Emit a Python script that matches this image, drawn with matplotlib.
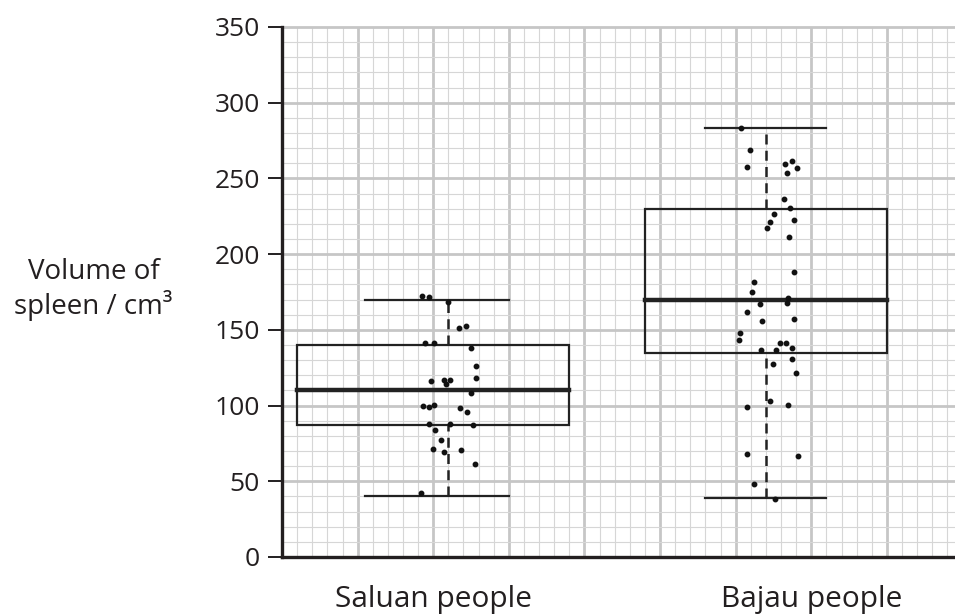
import matplotlib.pyplot as plt
from matplotlib.patches import Rectangle

plt.rcParams['font.family'] = ['Open Sans', 'DejaVu Sans']

# box summaries (min, Q1, median, Q3, max)
groups = ['Saluan people', 'Bajau people']
stats = [[40, 87, 110, 140, 170],
         [39, 135, 170, 230, 283]]
# horizontal placement on the grid (in grid squares)
box_left = [1, 24]
box_right = [19, 40]
whisker_x = [11, 32]
cap_left = [5.5, 28]
cap_right = [15, 36]
label_x = [10, 35]

# individual measurements
saluan_x = [9.28, 9.74, 11.0, 11.73, 12.17, 9.48, 10.05, 12.48, 12.81, 12.83,
            9.87, 10.69, 11.11, 10.87, 12.48, 9.33, 9.74, 10.05, 11.77, 12.26,
            9.70, 11.13, 12.63, 10.14, 10.52, 10.01, 10.69, 11.84, 12.76, 9.17]
saluan_y = [172.4, 171.9, 168.6, 151, 152.3, 141.5, 141.5, 138.2, 126, 118.4,
            116.2, 116.9, 116.9, 114, 108.5, 99.9, 98.9, 100.6, 98.6, 95.5,
            87.8, 87.8, 87, 84.1, 77.3, 71.5, 69.1, 70.7, 61.6, 42.3]
bajau_x = [30.34, 30.97, 30.77, 33.29, 33.73, 34.08, 33.42, 33.22, 33.6, 32.54,
           33.86, 32.28, 32.06, 33.55, 33.86, 31.24, 31.08, 31.63, 33.49, 33.38,
           30.77, 31.73, 33.88, 30.27, 30.2, 32.96, 33.35, 33.73, 31.7, 32.69,
           33.75, 32.45, 34.01, 32.28, 33.49, 30.77, 30.73, 34.11, 31.2, 32.59]
bajau_y = [283.1, 269, 257.4, 259.3, 261.5, 256.7, 253.4, 236.2, 230.7, 226.5,
           222.4, 221, 217.1, 211.3, 188.4, 181.8, 175, 166.9, 171.3, 167.5,
           161.8, 156.1, 157.2, 148, 143.5, 141.1, 141.5, 138, 136.7, 136.5,
           131, 127.5, 121.5, 102.8, 100.4, 98.9, 68, 66.7, 48.2, 38.3]

fig = plt.figure(figsize=(9.55, 6.16), dpi=100)
ax = fig.add_axes([0.2953, 0.0958, 0.7047, 0.8604])

xmax = 44.5
ax.set_xlim(0, xmax)
ax.set_ylim(0, 350)

# graph paper
for i in range(1, 45):
    major = i % 5 == 0
    ax.axvline(i, color='#c6c6c6' if major else '#d6d6d6',
               lw=2.0 if major else 0.8, zorder=0)
for v in range(10, 351, 10):
    major = v % 50 == 0
    ax.axhline(v, color='#c6c6c6' if major else '#d6d6d6',
               lw=2.0 if major else 0.8, zorder=0, clip_on=False)

for i, s in enumerate(stats):
    lo, q1, med, q3, hi = s
    ax.add_patch(Rectangle((box_left[i], q1), box_right[i] - box_left[i], q3 - q1,
                           fill=False, ec='#222222', lw=1.6, zorder=3))
    ax.plot([box_left[i], box_right[i]], [med, med], color='#222222', lw=3.2, zorder=3)
    ax.plot([whisker_x[i], whisker_x[i]], [q3, hi], color='#222222', lw=1.8,
            ls=(0, (4, 2.5)), zorder=3)
    ax.plot([whisker_x[i], whisker_x[i]], [lo, q1], color='#222222', lw=1.8,
            ls=(0, (4, 2.5)), zorder=3)
    ax.plot([cap_left[i], cap_right[i]], [hi, hi], color='#222222', lw=1.6, zorder=3)
    ax.plot([cap_left[i], cap_right[i]], [lo, lo], color='#222222', lw=1.6, zorder=3)

ax.plot(saluan_x, saluan_y, 'o', color='#111111', ms=3.2, zorder=4)
ax.plot(bajau_x, bajau_y, 'o', color='#111111', ms=3.2, zorder=4)

for sp in ['top', 'right']:
    ax.spines[sp].set_visible(False)
for sp in ['left', 'bottom']:
    ax.spines[sp].set_linewidth(2.4)
    ax.spines[sp].set_color('#231f20')
    ax.spines[sp].set_zorder(5)

ax.set_yticks(range(0, 351, 50))
ax.tick_params(axis='y', length=10, width=1.4, color='#231f20', pad=6,
               labelsize=19, labelcolor='#231f20')
ax.set_xticks(label_x)
ax.set_xticklabels(groups)
ax.tick_params(axis='x', length=0, pad=20, labelsize=21.5, labelcolor='#231f20')

fig.text(0.098, 0.53, 'Volume of\nspleen / cm³', ha='center', va='center',
         fontsize=20, color='#231f20', linespacing=1.2)

fig.savefig('out.png', dpi=100)
